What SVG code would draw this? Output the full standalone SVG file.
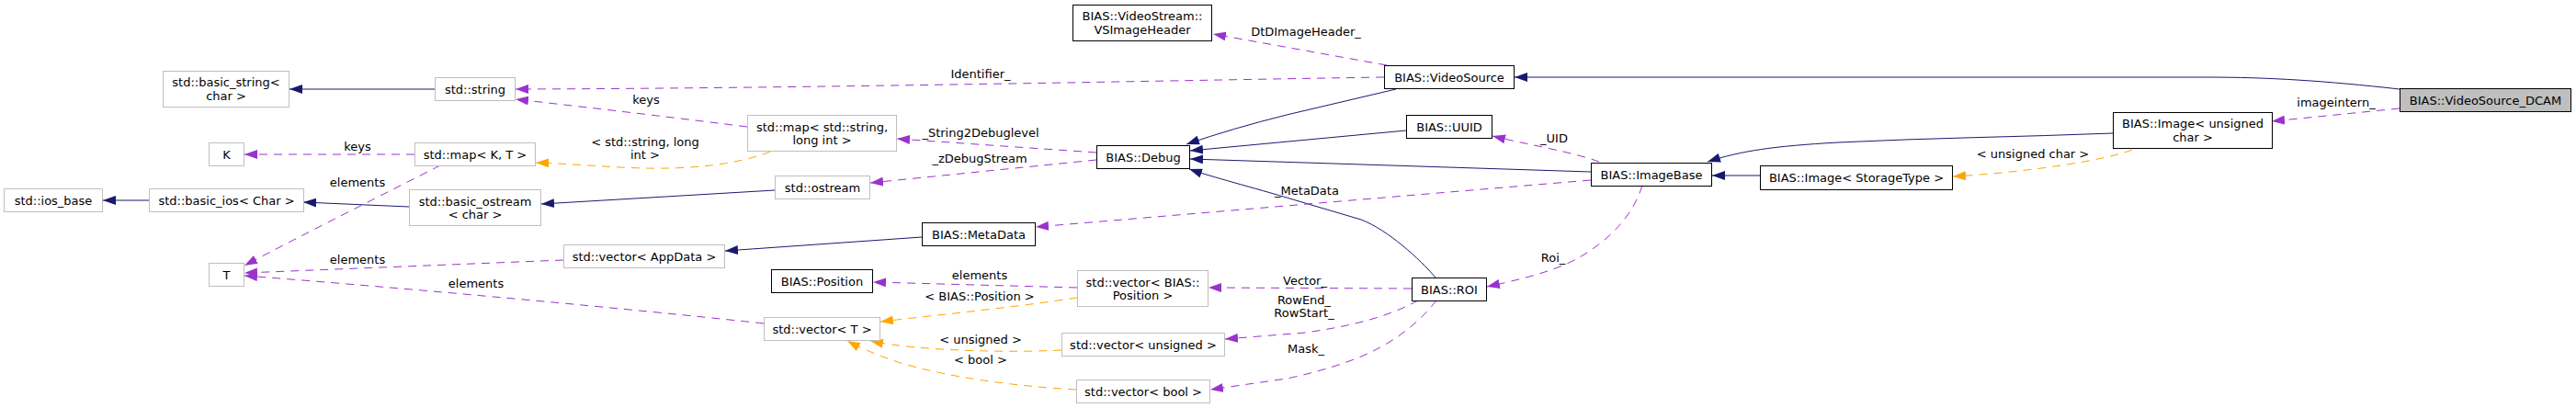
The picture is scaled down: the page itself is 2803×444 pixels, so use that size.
<svg xmlns="http://www.w3.org/2000/svg" width="2803" height="444" viewBox="0 0 2803 444">
<style>
text{font-family:"DejaVu Sans","Liberation Sans",sans-serif;font-size:13px;fill:#000;text-anchor:middle}
.nd rect{fill:#fff;stroke:#000;stroke-width:1}
.ng rect{fill:#fff;stroke:#bfbfbf;stroke-width:1}
.cur rect{fill:#bfbfbf;stroke:#000;stroke-width:1}
.inh{fill:none;stroke:#191970;stroke-width:1;marker-end:url(#aN)}
.use{fill:none;stroke:#9a32cd;stroke-width:1;stroke-dasharray:9,7;marker-end:url(#aP)}
.tpl{fill:none;stroke:#ffa500;stroke-width:1;stroke-dasharray:9,7;marker-end:url(#aO)}
</style>
<defs>
<marker id="aN" markerWidth="14" markerHeight="10" refX="14" refY="5" orient="auto" markerUnits="userSpaceOnUse"><path d="M0,0 L14,5 L0,10 z" fill="#191970"/></marker>
<marker id="aP" markerWidth="14" markerHeight="10" refX="14" refY="5" orient="auto" markerUnits="userSpaceOnUse"><path d="M0,0 L14,5 L0,10 z" fill="#9a32cd"/></marker>
<marker id="aO" markerWidth="14" markerHeight="10" refX="14" refY="5" orient="auto" markerUnits="userSpaceOnUse"><path d="M0,0 L14,5 L0,10 z" fill="#ffa500"/></marker>
</defs>
<rect width="2803" height="444" fill="#fff"/>
<g id="edges">
<path class="inh" d="M2611,97 C2530,88 2470,84 2400,84 L1648,84"/>
<path class="use" d="M2611,118 L2472,132"/>
<text x="2542" y="116">imageintern_</text>
<path class="inh" d="M2299,145 C2200,149 2100,150 2000,155 C1930,159 1895,164 1858,176"/>
<path class="tpl" d="M2320,163 C2290,175 2200,188 2125,192"/>
<text x="2212" y="172">&lt; unsigned char &gt;</text>
<path class="inh" d="M1915,191 L1863,191"/>
<path class="use" d="M1740,176 C1710,165 1660,157 1624,148"/>
<text x="1691" y="155">_UID</text>
<path class="inh" d="M1731,187 L1295,173"/>
<path class="inh" d="M1530,142 L1295,164"/>
<path class="inh" d="M1519,97 L1400,125 Q1340,140 1291,157"/>
<path class="inh" d="M1562,302 C1545,282 1510,250 1481,239 L1410,218 C1360,203 1320,193 1294,184"/>
<path class="use" d="M1731,196 L1127,247"/>
<text x="1422" y="212">_MetaData</text>
<path class="use" d="M1787,202 C1775,240 1745,265 1717,281 C1690,296 1650,305 1618,312"/>
<text x="1690" y="285">Roi_</text>
<path class="use" d="M1509,71 L1320,37"/>
<text x="1421" y="39">DtDImageHeader_</text>
<path class="use" d="M1506,84 C1300,87 900,96 561,97"/>
<text x="1067" y="85">Identifier_</text>
<path class="use" d="M813,138 C750,130 650,118 561,108"/>
<text x="703" y="113">keys</text>
<path class="tpl" d="M838,165 C800,180 750,184 700,183 C660,182 620,178 583,177"/>
<text x="702" y="159">&lt; std::string, long</text>
<text x="702" y="173">int &gt;</text>
<path class="use" d="M1193,166 L976,151"/>
<text x="1067" y="149">_String2Debuglevel</text>
<path class="use" d="M1193,174 L947,199"/>
<text x="1066" y="177">_zDebugStream</text>
<path class="inh" d="M843,207 L589,222"/>
<path class="inh" d="M445,225 L330,220"/>
<path class="inh" d="M162,218 L112,218"/>
<path class="inh" d="M473,97 L315,97"/>
<path class="use" d="M451,168 L266,168"/>
<text x="389" y="164">keys</text>
<path class="use" d="M479,180 C430,205 330,255 266,289"/>
<text x="389" y="203">elements</text>
<path class="use" d="M613,283 L266,297"/>
<text x="389" y="287">elements</text>
<path class="use" d="M831,352 C750,343 500,318 266,300"/>
<text x="518" y="313">elements</text>
<path class="inh" d="M1003,258 L789,273"/>
<path class="use" d="M1172,313 L950,307"/>
<text x="1066" y="304">elements</text>
<path class="tpl" d="M1172,324 C1100,335 1000,345 958,350"/>
<text x="1066" y="327">&lt; BIAS::Position &gt;</text>
<path class="tpl" d="M1155,381 C1100,384 1000,382 947,371"/>
<text x="1067" y="374">&lt; unsigned &gt;</text>
<path class="tpl" d="M1171,424 C1100,420 1030,410 980,395 C955,387 935,378 922,371"/>
<text x="1067" y="396">&lt; bool &gt;</text>
<path class="use" d="M1536,314 L1315,313"/>
<text x="1420" y="310">Vector_</text>
<path class="use" d="M1543,327 C1510,345 1470,355 1420,362 L1333,369"/>
<text x="1419" y="331">RowEnd_</text>
<text x="1419" y="345">RowStart_</text>
<path class="use" d="M1563,327 C1545,350 1520,370 1490,384 C1460,398 1420,408 1400,412 L1317,424"/>
<text x="1421" y="384">Mask_</text>
</g>
<g id="n_basic_string" class="ng"><rect x="177.5" y="77.5" width="137" height="39"/><text x="246" y="94">std::basic_string&lt;</text><text x="246" y="108.5">char &gt;</text></g>
<g id="n_string" class="ng"><rect x="473.5" y="84.5" width="87" height="25"/><text x="517" y="101.5">std::string</text></g>
<g id="n_K" class="ng"><rect x="227.5" y="155.5" width="38" height="25"/><text x="246.5" y="172.5">K</text></g>
<g id="n_mapKT" class="ng"><rect x="451.5" y="155.5" width="131" height="25"/><text x="517" y="172.5">std::map&lt; K, T &gt;</text></g>
<g id="n_ios_base" class="ng"><rect x="4.5" y="205.5" width="107" height="25"/><text x="58" y="222.5">std::ios_base</text></g>
<g id="n_basic_ios" class="ng"><rect x="162.5" y="205.5" width="168" height="25"/><text x="246.5" y="222.5">std::basic_ios&lt; Char &gt;</text></g>
<g id="n_basic_ostream" class="ng"><rect x="445.5" y="206.5" width="143" height="39"/><text x="517" y="223.5">std::basic_ostream</text><text x="517" y="238">&lt; char &gt;</text></g>
<g id="n_T" class="ng"><rect x="227.5" y="286.5" width="38" height="25"/><text x="246.5" y="303.5">T</text></g>
<g id="n_vecAppData" class="ng"><rect x="613.5" y="266.5" width="175" height="25"/><text x="701" y="283.5">std::vector&lt; AppData &gt;</text></g>
<g id="n_VSImageHeader" class="nd"><rect x="1167.5" y="5.5" width="151" height="39"/><text x="1243" y="22">BIAS::VideoStream::</text><text x="1243" y="37">VSImageHeader</text></g>
<g id="n_mapStringLong" class="ng"><rect x="813.5" y="125.5" width="162" height="39"/><text x="894.5" y="142.5">std::map&lt; std::string,</text><text x="894.5" y="157">long int &gt;</text></g>
<g id="n_Debug" class="nd"><rect x="1193.5" y="158.5" width="101" height="25"/><text x="1244" y="175.5">BIAS::Debug</text></g>
<g id="n_ostream" class="ng"><rect x="843.5" y="191.5" width="103" height="25"/><text x="895" y="208.5">std::ostream</text></g>
<g id="n_MetaData" class="nd"><rect x="1003.5" y="242.5" width="123" height="25"/><text x="1065" y="259.5">BIAS::MetaData</text></g>
<g id="n_Position" class="nd"><rect x="839.5" y="293.5" width="110" height="25"/><text x="894.5" y="310.5">BIAS::Position</text></g>
<g id="n_vecPos" class="ng"><rect x="1172.5" y="294.5" width="142" height="39"/><text x="1243.5" y="311.5">std::vector&lt; BIAS::</text><text x="1243.5" y="326">Position &gt;</text></g>
<g id="n_vecT" class="ng"><rect x="831.5" y="345.5" width="126" height="25"/><text x="894.5" y="362.5">std::vector&lt; T &gt;</text></g>
<g id="n_vecUnsigned" class="ng"><rect x="1155.5" y="362.5" width="177" height="25"/><text x="1244" y="379.5">std::vector&lt; unsigned &gt;</text></g>
<g id="n_vecBool" class="ng"><rect x="1171.5" y="413.5" width="145" height="25"/><text x="1244" y="430.5">std::vector&lt; bool &gt;</text></g>
<g id="n_VideoSource" class="nd"><rect x="1506.5" y="71.5" width="141" height="25"/><text x="1577" y="88.5">BIAS::VideoSource</text></g>
<g id="n_UUID" class="nd"><rect x="1530.5" y="125.5" width="93" height="25"/><text x="1577" y="142.5">BIAS::UUID</text></g>
<g id="n_ImageBase" class="nd"><rect x="1731.5" y="177.5" width="131" height="25"/><text x="1797" y="194.5">BIAS::ImageBase</text></g>
<g id="n_ImageST" class="nd"><rect x="1915.5" y="180.5" width="209" height="26"/><text x="2020" y="198">BIAS::Image&lt; StorageType &gt;</text></g>
<g id="n_ROI" class="nd"><rect x="1536.5" y="302.5" width="81" height="25"/><text x="1577" y="319.5">BIAS::ROI</text></g>
<g id="n_ImageUC" class="nd"><rect x="2299.5" y="122.5" width="173" height="39"/><text x="2386" y="139">BIAS::Image&lt; unsigned</text><text x="2386" y="153.5">char &gt;</text></g>
<g id="n_DCAM" class="cur"><rect x="2611.5" y="96.5" width="186" height="25"/><text x="2704.5" y="113.5">BIAS::VideoSource_DCAM</text></g>
</svg>
